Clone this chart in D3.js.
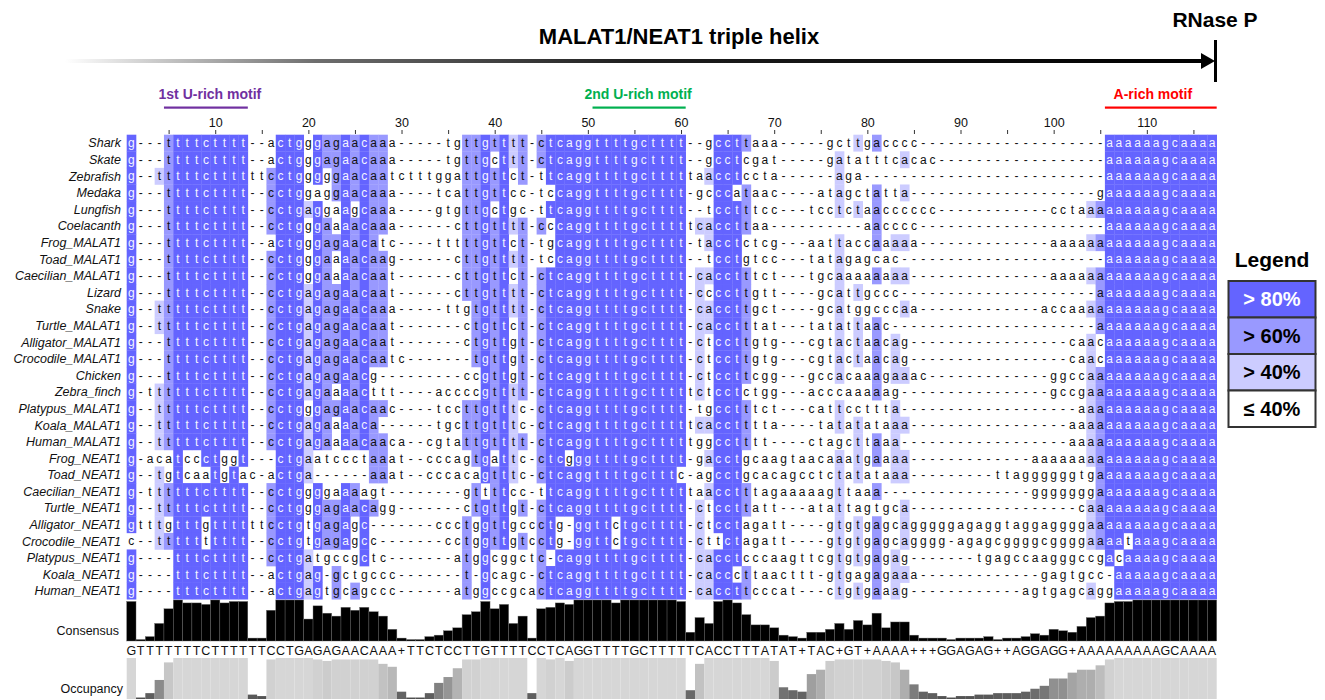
<!DOCTYPE html>
<html>
<head>
<meta charset="utf-8">
<script src="https://cdn.jsdelivr.net/npm/d3@7"></script>
<style>
  body { margin: 0; background: #fff; }
  svg { font-family: "Liberation Sans", Arial, sans-serif; display: block; }
</style>
</head>
<body>
<script>
// ---- data ----
const gap = n => "-".repeat(n);
const U1 = "ttttctttt";          // 1st U-rich stretch
const TH = "tcaggttttgctttt";    // 2nd U-rich stretch
const AR = "aaaaaagcaaaa";       // A-rich tail

const species = ["Shark", "Skate", "Zebrafish", "Medaka", "Lungfish", "Coelacanth",
  "Frog_MALAT1", "Toad_MALAT1", "Caecilian_MALAT1", "Lizard", "Snake", "Turtle_MALAT1",
  "Alligator_MALAT1", "Crocodile_MALAT1", "Chicken", "Zebra_finch", "Platypus_MALAT1",
  "Koala_MALAT1", "Human_MALAT1", "Frog_NEAT1", "Toad_NEAT1", "Caecilian_NEAT1",
  "Turtle_NEAT1", "Alligator_NEAT1", "Crocodile_NEAT1", "Platypus_NEAT1", "Koala_NEAT1",
  "Human_NEAT1"];

const sequences = [
  ["g---", U1, "--", "actgggagaacaaa", gap(5), "tgttg", "tttt-c", TH, "--gccttaaa-----gctt", "gacccc", gap(20), AR],
  ["g---", U1, "--", "actgggagaacaaa", gap(5), "tgttg", "cttt-c", TH, "--gcctcgat-----gata", "tttcacac", gap(18), AR],
  ["g--t", U1, "tt", "cctgggggaacaatctttggattg", "ttct-t", TH, "taacctccta------aga", gap(26), AR],
  ["g---", U1, "--", "cctggaggaacaaa", "----", "tcattg", "ttcc-t", "c", "caggttttgctttt", "-gcccataac----atagc", "tatta", gap(20), "g", AR],
  ["g---", U1, "--", "cctgaggaagcaaa", "----", "gtgttg", "ctgc-t", TH, "--tcctttcc---tcctct", "aacccccc", gap(12), "cctaaa", AR],
  ["g---", U1, "--", "cctgggaaaacaaa", gap(6), "cttg", "tttt-c", "c", "caggttttgctttt", "tcaccttaa", gap(10), "aacccc", gap(20), AR],
  ["g---", U1, "--", "actgggagaacatc", "----", "tttttg", "ttct-t", "g", "caggttttgctttt", "-tacctctcg---aattac", "caaaaa", gap(14), "aaaaaa", AR],
  ["g---", U1, "--", "cctgggaaaacaag", gap(6), "cttg", "tttt-t", "c", "caggttttgctttt", "--tcctgtcc---tataga", "gcac", gap(22), AR],
  ["g---", U1, "--", "cctgggaaaacaat", gap(6), "cttg", "ttct-c", TH, "-cacctttct---tgcaaa", "aaaaa", gap(15), "aaaaaa", AR],
  ["g---", U1, "--", "cctgagagaacaat", gap(6), "cttg", "tttt-c", TH, "-ccccttgtt----gcatt", "gccc", gap(21), "a", AR],
  ["g--t", U1, "--", "cctgagagaacaaa", gap(5), "ttgtg", "tttt-c", TH, "-caccttgct----gcatg", "gcccaa", gap(13), "accaaaa", AR],
  ["g--t", U1, "--", "cctgagagaacaat", gap(7), "ctg", "ttct-c", TH, "-cacctttat---tatatt", "aac", gap(22), "a", AR],
  ["g---", U1, "--", "cctgagagaacaat", gap(7), "ctg", "ttgt-c", TH, "-ctccttgtg---cgtact", "aacag", gap(17), "caac", AR],
  ["g---", U1, "--", "cctgagagaacaatc", gap(7), "tg", "ttgt-c", TH, "-ctccttgtg---cgtact", "aacag", gap(17), "caac", AR],
  ["g---", U1, "--", "cctgagagaacg", gap(9), "ccg", "ttgt-c", TH, "-ctccttcgg---gccaca", "aagaaac", gap(13), "ggccaa", AR],
  ["g-tt", U1, "--", "cctgagaaaacttt", "----", "accccg", "tttt-c", TH, "tctcctctgg---acccaa", "aaag", gap(16), "gccgaa", AR],
  ["g--t", U1, "--", "cctgggagaacaac", "----", "tccttg", "tttc-c", TH, "-tgcctttct---cattcc", "ttta", gap(19), "aaa", AR],
  ["g--t", U1, "--", "cctgagaaaaca", gap(6), "tgcttg", "tttc-c", TH, "tcacctttta----tatat", "ataaa", gap(17), "aaaa", AR],
  ["g--t", U1, "--", "cctgagaaaacaaca", "--", "cgtattg", "tttt-c", TH, "tggcctttt----ctagct", "taaa", gap(18), "aaaa", AR],
  ["g-acatccctggt", "---", "ctg", "aatccctaaat", "--", "cccagtg", "attc-c", "tcgggttttgctttt", "-gacctgcaagtaacaaat", "gaaaa", gap(13), "aaaaaaaa", AR],
  ["g--tgtcaatgtac", "-", "actga", gap(6), "aaat", "--", "cccacag", "tttc-c", "tcaggttttgctttc", "-agcctgcacagcctctat", "ataaa", gap(9), "ttaggggggtga", AR],
  ["g-tt", U1, "--", "cctggggaaaagt", gap(8), "gtt", "ttcc-t", TH, "taacctttagaaaaagtta", "aa", gap(16), "ggggggga", AR],
  ["g--t", U1, "--", "cctgggagaacagg", gap(7), "ctg", "ttgt-c", TH, "-ctccttatt---atatta", "gtgca", gap(18), "caa", AR],
  ["gtttgtttgttttttcctgtgagagc", gap(7), "ccctgg", "ttgccctg-ggttctgctttt", "-ctcctagatt----gtgt", "gagcagggggagaggtaggaggggaa", AR],
  ["c--", "tttttttttt", "--", "cctgtgagagcc", gap(7), "cctgg", "ttgtcctg-ggttctgctttt", "-cttctagatt----gtgt", "gagcagggg-agagcggggcggggaa", "aataaagcaaaa"],
  ["g----tttctttt--", "cctgatgccgctc", gap(7), "atgg", "cggctc-caggttttgctttt", "-cacctcccaagttcgtgt", "gagag", gap(7), "tgagccaagggccgac", "aaaagcaaaa"],
  ["g----tttctttt--", "actgag-gctgccc", gap(7), "t-gc", "agc-c", TH, "-cacccttaacttt-gtga", "gagaaa", gap(13), "gagtgcc", "-", "aaaaagcaaaa"],
  ["g----tttctttt--", "actgagtgcagccc", gap(6), "atgg", "ccgcac", TH, "-caccttcccat---ctgt", "gaaag", gap(12), "agtgagcagg", "aaaaagcaaaa"]
].map(parts => parts.join(""));

const tickLabels = [10, 20, 30, 40, 50, 60, 70, 80, 90, 100, 110];
const motifNames = ["1st U-rich motif", "2nd U-rich motif", "A-rich motif"];
const motifCols = [[5, 13], [51, 60], [106, 117]];
const legendLabels = ["> 80%", "> 60%", "> 40%", "\u2264 40%"];
const thresholds = [80, 60, 40];

// ---- layout ----
const W = 1325, H = 700;
const nCol = sequences[0].length;
const colLeft = 126.7, colRight = 1216.7;
const rowTop = 134.7, rowH = 16.59;

const svg = d3.select("body").append("svg").attr("width", W).attr("height", H);

const x = d3.scaleBand().domain(d3.range(1, nCol + 1)).range([colLeft, colRight]);
const y = d3.scaleBand().domain(species).range([rowTop, rowTop + rowH * species.length]);
const cw = x.bandwidth();

// length sanity check (visible only when a row is off)
const bad = sequences.map((s, i) => [species[i], s.length]).filter(d => d[1] !== nCol);
if (bad.length) {
  svg.append("text").attr("x", 5).attr("y", 12).attr("fill", "red").attr("font-size", 10)
    .text("len! " + bad.map(d => d.join(":")).join(" "));
}

// ---- consensus per column (gaps excluded from the letter, included in the %) ----
const columns = d3.range(nCol).map(j => {
  const counts = d3.rollup(sequences.map(s => s[j]).filter(c => c !== "-"), v => v.length, c => c);
  const max = d3.max(counts.values()) || 0;
  const top = [...counts].filter(d => d[1] === max).map(d => d[0]);
  const occ = d3.sum(counts.values());
  return {
    col: j + 1,
    pct: max / sequences.length * 100,
    top: top,
    letter: top.length === 1 ? top[0].toUpperCase() : "+",
    occ: occ
  };
});

const shade = ["#6464ff", "#9999ff", "#ccccff"];
function cellColour(c, j) {
  const col = columns[j];
  if (c === "-" || !col.top.includes(c)) return null;
  for (let k = 0; k < thresholds.length; k++) if (col.pct > thresholds[k]) return shade[k];
  return null;
}

// ---- header ----
const grad = svg.append("defs").append("linearGradient").attr("id", "fade")
  .attr("x1", "0%").attr("x2", "100%");
grad.append("stop").attr("offset", "0%").attr("stop-color", "#ffffff");
grad.append("stop").attr("offset", "22%").attr("stop-color", "#6e6e6e");
grad.append("stop").attr("offset", "50%").attr("stop-color", "#1e1e1e");
grad.append("stop").attr("offset", "100%").attr("stop-color", "#000000");

svg.append("rect").attr("x", 65).attr("y", 59).attr("width", 1137).attr("height", 4)
  .attr("fill", "url(#fade)");
svg.append("path").attr("d", "M1201,53 L1215,61 L1201,69 Z").attr("fill", "#000");
svg.append("rect").attr("x", 1214).attr("y", 40).attr("width", 3).attr("height", 42).attr("fill", "#000");

svg.append("text").attr("x", 679).attr("y", 44).attr("text-anchor", "middle")
  .attr("font-size", 22).attr("font-weight", "bold").text("MALAT1/NEAT1 triple helix");
svg.append("text").attr("x", 1215).attr("y", 27).attr("text-anchor", "middle")
  .attr("font-size", 21).attr("font-weight", "bold").text("RNase P");

// motifs
const motifColours = ["#7030a0", "#00b050", "#ff0000"];
const motifShift = [4, -1, -8];
const motifG = svg.append("g");
motifNames.forEach((name, i) => {
  const x0 = x(motifCols[i][0]), x1 = x(motifCols[i][1]) + cw;
  motifG.append("rect").attr("x", x0).attr("y", 106.5).attr("width", x1 - x0).attr("height", 2.2)
    .attr("fill", motifColours[i]);
  motifG.append("text").attr("x", (x0 + x1) / 2 + motifShift[i]).attr("y", 99)
    .attr("text-anchor", "middle").attr("font-size", 14).attr("font-weight", "bold")
    .attr("fill", motifColours[i]).text(name);
});

// column ruler
const xc = d3.scaleLinear().domain([1, nCol]).range([x(1) + cw / 2, x(nCol) + cw / 2]);
const ruler = svg.append("g").attr("transform", "translate(0," + 134 + ")")
  .call(d3.axisTop(xc).tickValues(d3.range(5, nCol + 1, 5)).tickSize(4).tickPadding(3)
    .tickFormat(d => tickLabels.includes(d) ? d : ""));
ruler.select(".domain").remove();
ruler.selectAll("text").attr("font-size", 12.5).attr("font-family", "Liberation Sans, Arial, sans-serif").attr("fill", "#111");
ruler.selectAll("line").attr("stroke", "#333");

// ---- alignment ----
const rows = svg.append("g").selectAll("g").data(sequences).join("g")
  .attr("transform", (d, i) => "translate(0," + y(species[i]) + ")");

rows.selectAll("rect").data(s => s.split("").map((c, j) => ({ c, j, fill: cellColour(c, j) }))
    .filter(d => d.fill))
  .join("rect")
  .attr("x", d => x(d.j + 1)).attr("y", 0)
  .attr("width", cw + 0.3).attr("height", rowH + 0.3)
  .attr("fill", d => d.fill);

rows.selectAll("text").data(s => s.split("").map((c, j) => ({ c, j, fill: cellColour(c, j) })))
  .join("text")
  .attr("x", d => x(d.j + 1) + cw / 2).attr("y", rowH / 2 + 4.3)
  .attr("text-anchor", "middle").attr("font-size", 12)
  .attr("fill", d => d.fill === shade[0] ? "#f4f4ff" : "#111")
  .text(d => d.c);

svg.append("g").selectAll("text").data(species).join("text")
  .attr("x", 121).attr("y", d => y(d) + rowH / 2 + 4.5)
  .attr("text-anchor", "end").attr("font-size", 12.5).attr("font-style", "italic")
  .attr("fill", "#111").text(d => d);

// ---- consensus ----
const yc = d3.scaleLinear().domain([0, 100]).range([641, 600]);
svg.append("g").selectAll("rect").data(columns).join("rect")
  .attr("x", d => x(d.col)).attr("y", d => yc(d.pct))
  .attr("width", cw).attr("height", d => yc(0) - yc(d.pct))
  .attr("fill", "#000").attr("stroke", "#6a6a6a").attr("stroke-width", 0.4);

svg.append("g").selectAll("text").data(columns).join("text")
  .attr("x", d => x(d.col) + cw / 2).attr("y", 655)
  .attr("text-anchor", "middle").attr("font-size", 12.5).attr("fill", "#111")
  .text(d => d.letter);

// ---- occupancy ----
const yo = d3.scaleLinear().domain([0, sequences.length]).range([699, 658]);
const occColour = d3.scaleLinear().domain([0, sequences.length]).range(["#4a4a4a", "#d6d6d6"]);
svg.append("g").selectAll("rect").data(columns).join("rect")
  .attr("x", d => x(d.col)).attr("y", d => yo(d.occ))
  .attr("width", cw).attr("height", d => yo(0) - yo(d.occ))
  .attr("fill", d => occColour(d.occ));

svg.append("text").attr("x", 119).attr("y", 635).attr("text-anchor", "end")
  .attr("font-size", 12.5).attr("fill", "#111").text("Consensus");
svg.append("text").attr("x", 123).attr("y", 693).attr("text-anchor", "end")
  .attr("font-size", 12.5).attr("fill", "#111").text("Occupancy");

// ---- legend ----
const lg = svg.append("g");
lg.append("text").attr("x", 1272).attr("y", 267).attr("text-anchor", "middle")
  .attr("font-size", 21).attr("font-weight", "bold").text("Legend");
const ly = d3.scaleBand().domain(legendLabels).range([281, 427]);
const legendFill = shade.concat(["#ffffff"]);
lg.selectAll("rect").data(legendLabels).join("rect")
  .attr("x", 1228.5).attr("y", d => ly(d)).attr("width", 87).attr("height", ly.bandwidth())
  .attr("fill", (d, i) => legendFill[i]).attr("stroke", "#333").attr("stroke-width", 2);
lg.selectAll("text.lab").data(legendLabels).join("text").attr("class", "lab")
  .attr("x", 1272).attr("y", d => ly(d) + ly.bandwidth() / 2 + 7)
  .attr("text-anchor", "middle").attr("font-size", 20).attr("font-weight", "bold")
  .attr("fill", (d, i) => i === 0 ? "#fff" : "#000").text(d => d);
</script>
</body>
</html>
